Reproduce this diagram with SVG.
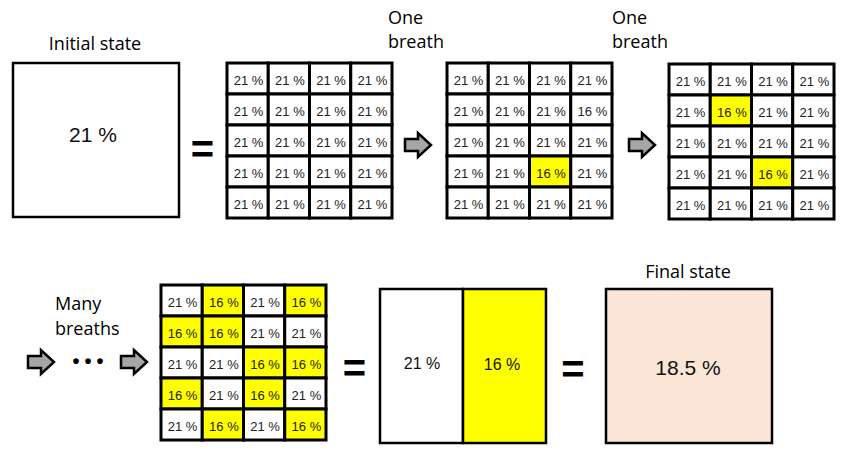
<svg xmlns="http://www.w3.org/2000/svg" xmlns:xlink="http://www.w3.org/1999/xlink" width="845" height="459" viewBox="0 0 845 459">
<style>
.lbl{font-family:"Open Sans","Liberation Sans",sans-serif;font-size:18px;fill:#000}
.big{font-family:"Liberation Sans",Arial,sans-serif;fill:#111;text-anchor:middle}
.c{fill:#fff;stroke:#000;stroke-width:3}
.y{fill:#FFFF00;stroke:#000;stroke-width:3}
.t{font-family:"Liberation Sans",Arial,sans-serif;font-size:13px;fill:#222;text-anchor:middle}
.box{stroke:#000;stroke-width:2.5}
.eq{font-family:"Liberation Sans",Arial,sans-serif;font-weight:bold;font-size:40px;fill:#000;text-anchor:middle}
.arrow{fill:#A6A6A6;stroke:#000;stroke-width:2.5;stroke-linejoin:miter}
</style>
<defs>
<path id="arr" d="M-26,-6 H-13 V-12 L0,0 L-13,12 V6 H-26 Z"/>
</defs>
<rect width="845" height="459" fill="#fff"/>

<g id="initial">
<text class="lbl" x="95" y="50" text-anchor="middle">Initial state</text>
<rect class="box" x="13" y="63" width="166" height="154" fill="#fff"/>
<text class="big" x="93" y="142" font-size="21">21 %</text>
</g>

<g id="grid1" transform="translate(227,63)">
<rect class="c" x="0" y="0" width="41.25" height="31"/><rect class="c" x="41.25" y="0" width="41.25" height="31"/><rect class="c" x="82.5" y="0" width="41.25" height="31"/><rect class="c" x="123.75" y="0" width="41.25" height="31"/>
<rect class="c" x="0" y="31" width="41.25" height="31"/><rect class="c" x="41.25" y="31" width="41.25" height="31"/><rect class="c" x="82.5" y="31" width="41.25" height="31"/><rect class="c" x="123.75" y="31" width="41.25" height="31"/>
<rect class="c" x="0" y="62" width="41.25" height="31"/><rect class="c" x="41.25" y="62" width="41.25" height="31"/><rect class="c" x="82.5" y="62" width="41.25" height="31"/><rect class="c" x="123.75" y="62" width="41.25" height="31"/>
<rect class="c" x="0" y="93" width="41.25" height="31"/><rect class="c" x="41.25" y="93" width="41.25" height="31"/><rect class="c" x="82.5" y="93" width="41.25" height="31"/><rect class="c" x="123.75" y="93" width="41.25" height="31"/>
<rect class="c" x="0" y="124" width="41.25" height="31"/><rect class="c" x="41.25" y="124" width="41.25" height="31"/><rect class="c" x="82.5" y="124" width="41.25" height="31"/><rect class="c" x="123.75" y="124" width="41.25" height="31"/>
<text class="t" x="21.6" y="21.5">21 %</text><text class="t" x="62.9" y="21.5">21 %</text><text class="t" x="104.1" y="21.5">21 %</text><text class="t" x="145.4" y="21.5">21 %</text>
<text class="t" x="21.6" y="52.5">21 %</text><text class="t" x="62.9" y="52.5">21 %</text><text class="t" x="104.1" y="52.5">21 %</text><text class="t" x="145.4" y="52.5">21 %</text>
<text class="t" x="21.6" y="83.5">21 %</text><text class="t" x="62.9" y="83.5">21 %</text><text class="t" x="104.1" y="83.5">21 %</text><text class="t" x="145.4" y="83.5">21 %</text>
<text class="t" x="21.6" y="114.5">21 %</text><text class="t" x="62.9" y="114.5">21 %</text><text class="t" x="104.1" y="114.5">21 %</text><text class="t" x="145.4" y="114.5">21 %</text>
<text class="t" x="21.6" y="145.5">21 %</text><text class="t" x="62.9" y="145.5">21 %</text><text class="t" x="104.1" y="145.5">21 %</text><text class="t" x="145.4" y="145.5">21 %</text>
</g>

<g id="label-breath1">
<text class="lbl" x="388" y="24">One</text>
<text class="lbl" x="388" y="48">breath</text>
</g>

<g id="grid2" transform="translate(447,63)">
<rect class="c" x="0" y="0" width="41.25" height="31"/><rect class="c" x="41.25" y="0" width="41.25" height="31"/><rect class="c" x="82.5" y="0" width="41.25" height="31"/><rect class="c" x="123.75" y="0" width="41.25" height="31"/>
<rect class="c" x="0" y="31" width="41.25" height="31"/><rect class="c" x="41.25" y="31" width="41.25" height="31"/><rect class="c" x="82.5" y="31" width="41.25" height="31"/><rect class="c" x="123.75" y="31" width="41.25" height="31"/>
<rect class="c" x="0" y="62" width="41.25" height="31"/><rect class="c" x="41.25" y="62" width="41.25" height="31"/><rect class="c" x="82.5" y="62" width="41.25" height="31"/><rect class="c" x="123.75" y="62" width="41.25" height="31"/>
<rect class="c" x="0" y="93" width="41.25" height="31"/><rect class="c" x="41.25" y="93" width="41.25" height="31"/><rect class="y" x="82.5" y="93" width="41.25" height="31"/><rect class="c" x="123.75" y="93" width="41.25" height="31"/>
<rect class="c" x="0" y="124" width="41.25" height="31"/><rect class="c" x="41.25" y="124" width="41.25" height="31"/><rect class="c" x="82.5" y="124" width="41.25" height="31"/><rect class="c" x="123.75" y="124" width="41.25" height="31"/>
<text class="t" x="21.6" y="21.5">21 %</text><text class="t" x="62.9" y="21.5">21 %</text><text class="t" x="104.1" y="21.5">21 %</text><text class="t" x="145.4" y="21.5">21 %</text>
<text class="t" x="21.6" y="52.5">21 %</text><text class="t" x="62.9" y="52.5">21 %</text><text class="t" x="104.1" y="52.5">21 %</text><text class="t" x="145.4" y="52.5">16 %</text>
<text class="t" x="21.6" y="83.5">21 %</text><text class="t" x="62.9" y="83.5">21 %</text><text class="t" x="104.1" y="83.5">21 %</text><text class="t" x="145.4" y="83.5">21 %</text>
<text class="t" x="21.6" y="114.5">21 %</text><text class="t" x="62.9" y="114.5">21 %</text><text class="t" x="104.1" y="114.5">16 %</text><text class="t" x="145.4" y="114.5">21 %</text>
<text class="t" x="21.6" y="145.5">21 %</text><text class="t" x="62.9" y="145.5">21 %</text><text class="t" x="104.1" y="145.5">21 %</text><text class="t" x="145.4" y="145.5">21 %</text>
</g>

<g id="label-breath2">
<text class="lbl" x="612" y="24">One</text>
<text class="lbl" x="612" y="48">breath</text>
</g>

<g id="grid3" transform="translate(669,64)">
<rect class="c" x="0" y="0" width="41.25" height="31"/><rect class="c" x="41.25" y="0" width="41.25" height="31"/><rect class="c" x="82.5" y="0" width="41.25" height="31"/><rect class="c" x="123.75" y="0" width="41.25" height="31"/>
<rect class="c" x="0" y="31" width="41.25" height="31"/><rect class="y" x="41.25" y="31" width="41.25" height="31"/><rect class="c" x="82.5" y="31" width="41.25" height="31"/><rect class="c" x="123.75" y="31" width="41.25" height="31"/>
<rect class="c" x="0" y="62" width="41.25" height="31"/><rect class="c" x="41.25" y="62" width="41.25" height="31"/><rect class="c" x="82.5" y="62" width="41.25" height="31"/><rect class="c" x="123.75" y="62" width="41.25" height="31"/>
<rect class="c" x="0" y="93" width="41.25" height="31"/><rect class="c" x="41.25" y="93" width="41.25" height="31"/><rect class="y" x="82.5" y="93" width="41.25" height="31"/><rect class="c" x="123.75" y="93" width="41.25" height="31"/>
<rect class="c" x="0" y="124" width="41.25" height="31"/><rect class="c" x="41.25" y="124" width="41.25" height="31"/><rect class="c" x="82.5" y="124" width="41.25" height="31"/><rect class="c" x="123.75" y="124" width="41.25" height="31"/>
<text class="t" x="21.6" y="21.5">21 %</text><text class="t" x="62.9" y="21.5">21 %</text><text class="t" x="104.1" y="21.5">21 %</text><text class="t" x="145.4" y="21.5">21 %</text>
<text class="t" x="21.6" y="52.5">21 %</text><text class="t" x="62.9" y="52.5">16 %</text><text class="t" x="104.1" y="52.5">21 %</text><text class="t" x="145.4" y="52.5">21 %</text>
<text class="t" x="21.6" y="83.5">21 %</text><text class="t" x="62.9" y="83.5">21 %</text><text class="t" x="104.1" y="83.5">21 %</text><text class="t" x="145.4" y="83.5">21 %</text>
<text class="t" x="21.6" y="114.5">21 %</text><text class="t" x="62.9" y="114.5">21 %</text><text class="t" x="104.1" y="114.5">16 %</text><text class="t" x="145.4" y="114.5">21 %</text>
<text class="t" x="21.6" y="145.5">21 %</text><text class="t" x="62.9" y="145.5">21 %</text><text class="t" x="104.1" y="145.5">21 %</text><text class="t" x="145.4" y="145.5">21 %</text>
</g>

<g id="label-many">
<text class="lbl" x="55" y="310">Many</text>
<text class="lbl" x="55" y="335">breaths</text>
<text x="90.5" y="367.5" font-family="Liberation Sans,Arial,sans-serif" font-weight="bold" font-size="20" letter-spacing="5" text-anchor="middle">•••</text>
</g>

<g id="grid4" transform="translate(161,285)">
<rect class="c" x="0" y="0" width="41.25" height="31"/><rect class="y" x="41.25" y="0" width="41.25" height="31"/><rect class="c" x="82.5" y="0" width="41.25" height="31"/><rect class="y" x="123.75" y="0" width="41.25" height="31"/>
<rect class="y" x="0" y="31" width="41.25" height="31"/><rect class="y" x="41.25" y="31" width="41.25" height="31"/><rect class="c" x="82.5" y="31" width="41.25" height="31"/><rect class="c" x="123.75" y="31" width="41.25" height="31"/>
<rect class="c" x="0" y="62" width="41.25" height="31"/><rect class="c" x="41.25" y="62" width="41.25" height="31"/><rect class="y" x="82.5" y="62" width="41.25" height="31"/><rect class="y" x="123.75" y="62" width="41.25" height="31"/>
<rect class="y" x="0" y="93" width="41.25" height="31"/><rect class="c" x="41.25" y="93" width="41.25" height="31"/><rect class="y" x="82.5" y="93" width="41.25" height="31"/><rect class="c" x="123.75" y="93" width="41.25" height="31"/>
<rect class="c" x="0" y="124" width="41.25" height="31"/><rect class="y" x="41.25" y="124" width="41.25" height="31"/><rect class="c" x="82.5" y="124" width="41.25" height="31"/><rect class="y" x="123.75" y="124" width="41.25" height="31"/>
<text class="t" x="21.6" y="21.5">21 %</text><text class="t" x="62.9" y="21.5">16 %</text><text class="t" x="104.1" y="21.5">21 %</text><text class="t" x="145.4" y="21.5">16 %</text>
<text class="t" x="21.6" y="52.5">16 %</text><text class="t" x="62.9" y="52.5">16 %</text><text class="t" x="104.1" y="52.5">21 %</text><text class="t" x="145.4" y="52.5">21 %</text>
<text class="t" x="21.6" y="83.5">21 %</text><text class="t" x="62.9" y="83.5">21 %</text><text class="t" x="104.1" y="83.5">16 %</text><text class="t" x="145.4" y="83.5">16 %</text>
<text class="t" x="21.6" y="114.5">16 %</text><text class="t" x="62.9" y="114.5">21 %</text><text class="t" x="104.1" y="114.5">16 %</text><text class="t" x="145.4" y="114.5">21 %</text>
<text class="t" x="21.6" y="145.5">21 %</text><text class="t" x="62.9" y="145.5">16 %</text><text class="t" x="104.1" y="145.5">21 %</text><text class="t" x="145.4" y="145.5">16 %</text>
</g>

<g id="split">
<rect class="box" x="380" y="289" width="83" height="154" fill="#fff"/>
<rect class="box" x="463" y="289" width="83" height="154" fill="#FFFF00"/>
<text class="big" x="422" y="369" font-size="16">21 %</text>
<text class="big" x="502" y="370" font-size="16">16 %</text>
</g>

<g id="final">
<text class="lbl" x="688" y="278" text-anchor="middle">Final state</text>
<rect class="box" x="606" y="289" width="166" height="154" fill="#FBE5D6"/>
<text class="big" x="688" y="375" font-size="21">18.5 %</text>
</g>

<g id="equals">
<text class="eq" x="202.5" y="163">=</text>
<text class="eq" x="354.5" y="382">=</text>
<text class="eq" x="573" y="383">=</text>
</g>

<g id="connectors">
<use xlink:href="#arr" class="arrow" transform="translate(431,145)"/>
<use xlink:href="#arr" class="arrow" transform="translate(655,145)"/>
<use xlink:href="#arr" class="arrow" transform="translate(54,362)"/>
<use xlink:href="#arr" class="arrow" transform="translate(147,362)"/>
</g>
</svg>
